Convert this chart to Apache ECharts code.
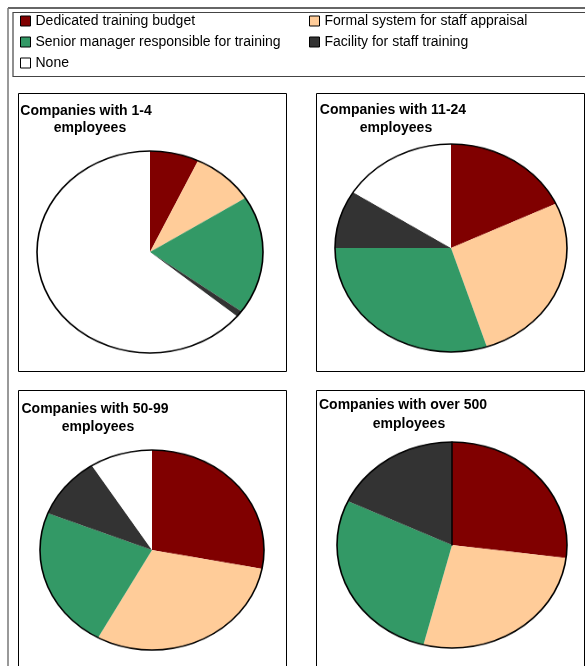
<!DOCTYPE html>
<html>
<head>
<meta charset="utf-8">
<script src="https://cdn.jsdelivr.net/npm/echarts@6/dist/echarts.min.js"></script>
<style>
body{margin:0;background:#fff;}
#main{position:absolute;left:0;top:0;width:585px;height:666px;}
.pie{position:absolute;}
</style>
</head>
<body>
<div id="main"></div>
<script>
const categories = [
  'Dedicated training budget',
  'Formal system for staff appraisal',
  'Senior manager responsible for training',
  'Facility for staff training',
  'None'
];
// share of companies, %, per size band
const share1to4    = [7, 9, 19, 1, 64];
const share11to24  = [18, 27, 30, 9, 16];
const share50to99  = [28, 30, 23, 10, 9];
const shareOver500 = [27, 27, 28, 18, 0];
const panelTitles = [
  ['Companies with 1-4', 'employees'],
  ['Companies with 11-24', 'employees'],
  ['Companies with 50-99', 'employees'],
  ['Companies with over 500', 'employees']
];

const colors = ['#800000', '#FFCC99', '#339966', '#333333', '#FFFFFF'];
const font = '"Liberation Sans", Arial, sans-serif';

// box = [x, y, w, h]; t1/t2 = title line anchors; pie centre + radii (elliptic)
const panels = [
  {box: [18, 93, 268, 278],  t1: [86, 111],  t2: [90, 128],  cx: 150, cy: 252, rx: 113, ry: 101, data: share1to4},
  {box: [316, 93, 268, 278], t1: [393, 110], t2: [396, 128], cx: 451, cy: 248, rx: 116, ry: 104, data: share11to24},
  {box: [18, 390, 268, 320], t1: [95, 409],  t2: [98, 427],  cx: 152, cy: 550, rx: 112, ry: 100, data: share50to99},
  {box: [316, 390, 268, 320],t1: [403, 405], t2: [409, 424], cx: 452, cy: 545, rx: 115, ry: 103, data: shareOver500}
];

// frame, legend box, panel boxes, titles
const graphic = [
  {type: 'line', shape: {x1: 8, y1: 8, x2: 600, y2: 8}, style: {stroke: '#333', lineWidth: 1.5}},
  {type: 'line', shape: {x1: 8, y1: 8, x2: 8, y2: 700}, style: {stroke: '#777', lineWidth: 1.5}},
  {type: 'rect', shape: {x: 13, y: 12.5, width: 620, height: 64}, style: {fill: 'none', stroke: '#444', lineWidth: 1.2}}
];
panels.forEach((p, i) => {
  graphic.push({type: 'rect', shape: {x: p.box[0] + 0.5, y: p.box[1] + 0.5, width: p.box[2], height: p.box[3]},
    style: {fill: 'none', stroke: '#000', lineWidth: 1}});
  [p.t1, p.t2].forEach((pos, j) => {
    graphic.push({type: 'text', x: pos[0], y: pos[1],
      style: {text: panelTitles[i][j], font: 'bold 14px ' + font, fill: '#000', align: 'center', verticalAlign: 'middle'}});
  });
});

const legendBase = {
  orient: 'vertical', icon: 'rect', itemWidth: 10, itemHeight: 10, itemGap: 5, padding: 0,
  selectedMode: false,
  itemStyle: {borderColor: '#000', borderWidth: 1},
  textStyle: {fontFamily: font, fontSize: 14, color: '#000', lineHeight: 16}
};

const main = echarts.init(document.getElementById('main'));
main.setOption({
  animation: false,
  legend: [
    Object.assign({}, legendBase, {left: 20, top: 13, data: [categories[0], categories[2], categories[4]]}),
    Object.assign({}, legendBase, {left: 309, top: 13, data: [categories[1], categories[3]]})
  ],
  graphic: graphic,
  series: [{
    // only feeds the legend with names and colours
    type: 'pie', center: [-100, -100], radius: 1, silent: true, label: {show: false},
    data: categories.map((name, k) => ({name: name, value: 1, itemStyle: {color: colors[k]}}))
  }]
});

panels.forEach(p => {
  const size = 2 * p.rx + 8;
  const div = document.createElement('div');
  div.className = 'pie';
  div.style.width = size + 'px';
  div.style.height = size + 'px';
  div.style.left = (p.cx - size / 2) + 'px';
  div.style.top = (p.cy - size / 2) + 'px';
  div.style.transform = 'scaleY(' + (p.ry / p.rx) + ')';
  div.style.transformOrigin = '50% 50%';
  document.body.appendChild(div);
  const chart = echarts.init(div);
  chart.setOption({
    animation: false,
    series: [{
      type: 'pie', radius: p.rx, center: ['50%', '50%'], startAngle: 90, clockwise: true,
      silent: true, label: {show: false}, labelLine: {show: false},
      data: categories.map((name, k) => ({
        name: name, value: p.data[k],
        itemStyle: p.data[k] === 0
          ? {color: colors[k], borderColor: '#000', borderWidth: 1.5}
          : {color: colors[k], borderWidth: 0}
      }))
    }, {
      type: 'pie', radius: p.rx, center: ['50%', '50%'], silent: true,
      label: {show: false}, labelLine: {show: false},
      data: [{name: 'outline', value: 1, itemStyle: {color: 'rgba(0,0,0,0)', borderColor: '#000', borderWidth: 1.6}}]
    }]
  });
});
</script>
</body>
</html>
